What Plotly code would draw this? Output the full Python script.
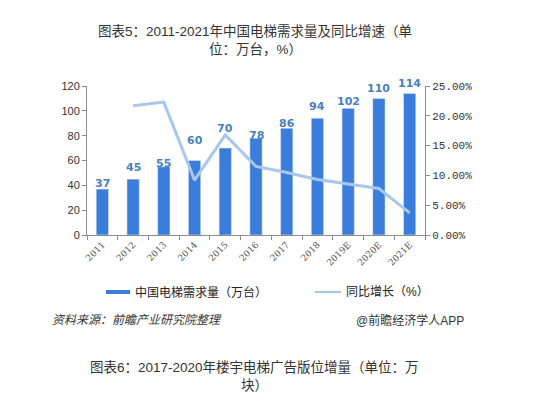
import plotly.graph_objects as go

years = ["2011", "2012", "2013", "2014", "2015", "2016", "2017", "2018", "2019E", "2020E", "2021E"]
demand = [37, 45, 55, 60, 70, 78, 86, 94, 102, 110, 114]
growth = [None, 0.217, 0.223, 0.092, 0.168, 0.115, 0.105, 0.093, 0.086, 0.078, 0.037]
bar_name = "中国电梯需求量（万台）"
line_name = "同比增长（%）"
title_lines = ["图表5：2011-2021年中国电梯需求量及同比增速（单", "位：万台，%）"]
source_text = "资料来源：前瞻产业研究院整理"
brand_text = "@前瞻经济学人APP"
next_title_lines = ["图表6：2017-2020年楼宇电梯广告版位增量（单位：万", "块）"]

# styling: vertical offset (px) of each value label above its bar top
label_lift = [6, 12, 3, 20, 20, 3, 5, 12, 7, 10, 10]

BAR_C = "#3b7ddb"
LINE_C = "#a8c7ec"
LABEL_C = "#4a7fc1"
AX_C = "#8c8c8c"
FAM = "Liberation Sans, Noto Sans CJK SC"

fig = go.Figure()
fig.add_trace(go.Bar(
    x=years, y=demand, marker_color=BAR_C, name=bar_name, showlegend=False))
fig.add_trace(go.Scatter(
    x=years, y=growth, yaxis="y2", mode="lines", name=line_name,
    line=dict(color=LINE_C, width=3), showlegend=False))

for i, (v, lift) in enumerate(zip(demand, label_lift)):
    fig.add_annotation(x=i, y=v, xref="x", yref="y", text=f"<b>{v}</b>",
                       showarrow=False, yanchor="middle", yshift=lift,
                       font=dict(family="DejaVu Sans", size=11, color=LABEL_C))

fig.update_layout(
    width=542, height=393,
    margin=dict(l=79, r=125, t=78, b=166),
    paper_bgcolor="white", plot_bgcolor="white",
    bargap=0.6,
    font=dict(family=FAM, color="#333"),
    xaxis=dict(type="category", range=[-0.5, 10.5], tickangle=-45,
               showline=True, linecolor=AX_C, linewidth=1,
               ticks="outside", tickson="boundaries", ticklen=4, tickcolor=AX_C,
               tickfont=dict(family="DejaVu Serif", size=9, color="#555"),
               showgrid=False),
    yaxis=dict(range=[0, 120], dtick=20, showline=True, linecolor=AX_C,
               ticks="outside", ticklen=4, tickcolor=AX_C, showgrid=False,
               zeroline=False,
               tickfont=dict(family="Liberation Sans", size=11, color="#333")),
    yaxis2=dict(range=[0, 0.25], dtick=0.05, overlaying="y", side="right",
                tickformat=".2%", showline=True, linecolor=AX_C,
                ticks="outside", ticklen=4, tickcolor=AX_C, showgrid=False,
                zeroline=False,
                tickfont=dict(family="Liberation Mono", size=11, color="#333")),
)

ann = [
    dict(text=title_lines[0], x=247, y=23, font=dict(size=13.5, color="#333")),
    dict(text=title_lines[1], x=247, y=41, font=dict(size=13.5, color="#333")),
    dict(text=bar_name, x=126, y=284, xanchor="left", font=dict(size=12, color="#222")),
    dict(text=line_name, x=337, y=284, xanchor="left", font=dict(size=12, color="#222")),
    dict(text=source_text, x=43, y=312, xanchor="left",
         font=dict(size=12, color="#333", style="italic")),
    dict(text=brand_text, x=347, y=312, xanchor="left", font=dict(size=12, color="#333")),
    dict(text=next_title_lines[0], x=246, y=359, font=dict(size=13.5, color="#333")),
    dict(text=next_title_lines[1], x=246, y=377, font=dict(size=13.5, color="#333")),
]
for a in ann:
    fig.add_annotation(xref="paper", yref="paper", showarrow=False,
                       x=(a["x"] - 79) / 338, y=(227 - a["y"]) / 149,
                       xanchor=a.get("xanchor", "center"), yanchor="middle",
                       borderpad=0,
                       text=a["text"], font=dict(family=FAM, **a["font"]))

for x0, x1, c, w in [(98, 122, BAR_C, 4), (307, 333, LINE_C, 2)]:
    fig.add_shape(type="line", xref="paper", yref="paper",
                  x0=(x0 - 79) / 338, x1=(x1 - 79) / 338,
                  y0=(227 - 284) / 149, y1=(227 - 284) / 149,
                  line=dict(color=c, width=w))

fig.write_html("out.html")
